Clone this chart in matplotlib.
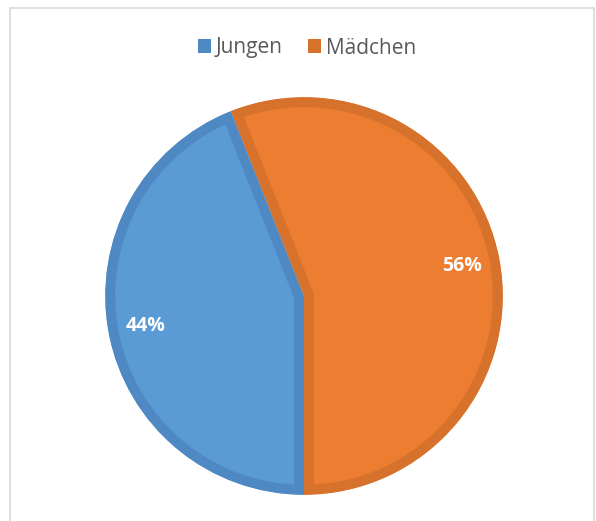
import matplotlib
matplotlib.use("Agg")
import matplotlib.pyplot as plt
from matplotlib.patches import Rectangle, Patch

categories = ["Jungen", "Mädchen"]
values = [44, 56]
fill_colors = ["#5B9BD5", "#ED7D31"]
edge_colors = ["#4F89C4", "#D6722C"]

W, H = 596, 521
fig = plt.figure(figsize=(W / 100, H / 100), dpi=100)
fig.patch.set_facecolor("white")

# chart frame
fig.patches.append(Rectangle((10 / W, -0.05), (594 - 10) / W, 1.05 - 8 / H,
                             transform=fig.transFigure, fill=False,
                             edgecolor="#D9D9D9", linewidth=1.2))

cx, cy, r = 304, 296, 199
ax = fig.add_axes([(cx - r) / W, (H - cy - r) / H, 2 * r / W, 2 * r / H])
wedges, texts, autotexts = ax.pie(
    values, colors=fill_colors, startangle=270, counterclock=False,
    autopct="%d%%", pctdistance=0.81, radius=1.0,
    textprops=dict(color="white", fontsize=14, fontweight="bold",
                   family="Open Sans"))
for w, ec in zip(wedges, edge_colors):
    w.set_edgecolor(ec)
    w.set_linewidth(14.4)
    w.set_clip_on(True)
    w.set_clip_path(w)
ax.set_xlim(-1.001, 1.001)
ax.set_ylim(-1.001, 1.001)
ax.axis("off")

handles = [Patch(facecolor=c, edgecolor="none") for c in edge_colors]
leg = fig.legend(handles, categories, loc="center",
                 bbox_to_anchor=(307 / W, 1 - 48 / H), ncol=2, frameon=False,
                 prop=dict(family="Open Sans", size=15),
                 handlelength=0.62, handleheight=0.62, handletextpad=0.25,
                 columnspacing=1.2, borderaxespad=0, borderpad=0)
for t in leg.get_texts():
    t.set_color("#595959")

fig.savefig("out.png", dpi=100)
